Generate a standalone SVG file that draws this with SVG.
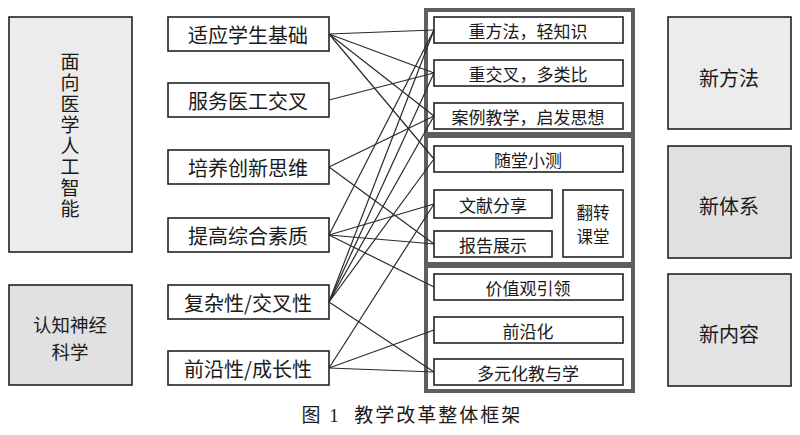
<svg xmlns="http://www.w3.org/2000/svg" width="800" height="435" viewBox="0 0 800 435">
<style>
text{font-family:"Noto Sans CJK SC","Liberation Sans",sans-serif;fill:#1a1a1a;text-anchor:middle;dominant-baseline:central}
.big{stroke:#222;stroke-width:1.6}
.box{fill:#fff;stroke:#222;stroke-width:1.6}
.frame{fill:#fff;stroke:#5e5e5e;stroke-width:4}
.t20{font-size:20px}
.t17{font-size:17px}
.vert{writing-mode:vertical-rl;font-size:19px;letter-spacing:2px}
#connectors line{stroke:#2a2a2a;stroke-width:1.2}
</style>
<rect width="800" height="435" fill="#fff"/>
<g id="n-ai"><rect class="big" x="9" y="17" width="123" height="235" fill="#ececec"/>
<text class="vert" x="70" y="136">面向医学人工智能</text></g>
<g id="n-cog"><rect class="big" x="9" y="285" width="123" height="100" fill="#e1e1e1"/>
<text style="font-size:18.5px"><tspan x="70" y="324">认知神经</tspan><tspan x="70" y="351">科学</tspan></text></g>
<g id="n-l1"><rect class="box" x="168" y="17" width="161" height="34"/><text class="t20" x="248" y="34">适应学生基础</text></g>
<g id="n-l2"><rect class="box" x="168" y="83" width="161" height="34"/><text class="t20" x="248" y="100">服务医工交叉</text></g>
<g id="n-l3"><rect class="box" x="168" y="150" width="161" height="34"/><text class="t20" x="248" y="167">培养创新思维</text></g>
<g id="n-l4"><rect class="box" x="168" y="218" width="161" height="34"/><text class="t20" x="248" y="235">提高综合素质</text></g>
<g id="n-l5"><rect class="box" x="168" y="285" width="161" height="34"/><text class="t20" x="248" y="302">复杂性/交叉性</text></g>
<g id="n-l6"><rect class="box" x="168" y="351" width="161" height="34"/><text class="t20" x="248" y="368">前沿性/成长性</text></g>
<g id="frames">
<rect class="frame" x="426" y="10" width="207" height="124"/>
<rect class="frame" x="426" y="136" width="207" height="128"/>
<rect class="frame" x="426" y="266" width="207" height="125"/>
</g>
<g id="connectors">
<line x1="329" y1="34" x2="434" y2="30"/>
<line x1="329" y1="34" x2="434" y2="73"/>
<line x1="329" y1="34" x2="434" y2="116"/>
<line x1="329" y1="34" x2="434" y2="159"/>
<line x1="329" y1="100" x2="434" y2="73"/>
<line x1="329" y1="167" x2="434" y2="116"/>
<line x1="329" y1="167" x2="434" y2="244"/>
<line x1="329" y1="235" x2="434" y2="30"/>
<line x1="329" y1="235" x2="434" y2="204"/>
<line x1="329" y1="235" x2="434" y2="244"/>
<line x1="329" y1="235" x2="434" y2="287"/>
<line x1="329" y1="302" x2="434" y2="30"/>
<line x1="329" y1="302" x2="434" y2="73"/>
<line x1="329" y1="302" x2="434" y2="116"/>
<line x1="329" y1="302" x2="434" y2="159"/>
<line x1="329" y1="302" x2="434" y2="372"/>
<line x1="329" y1="368" x2="434" y2="204"/>
<line x1="329" y1="368" x2="434" y2="330"/>
<line x1="329" y1="368" x2="434" y2="372"/>
</g>
<g id="n-m1"><rect class="box" x="434" y="17" width="189" height="26"/><text class="t17" x="528" y="30">重方法，轻知识</text></g>
<g id="n-m2"><rect class="box" x="434" y="60" width="189" height="26"/><text class="t17" x="528" y="73">重交叉，多类比</text></g>
<g id="n-m3"><rect class="box" x="434" y="103" width="189" height="26"/><text class="t17" x="528" y="116">案例教学，启发思想</text></g>
<g id="n-m4"><rect class="box" x="434" y="146" width="189" height="26"/><text class="t17" x="528" y="159">随堂小测</text></g>
<g id="n-m5"><rect class="box" x="434" y="190" width="118" height="28"/><text class="t17" x="493" y="204">文献分享</text></g>
<g id="n-m6"><rect class="box" x="434" y="231" width="118" height="26"/><text class="t17" x="493" y="244">报告展示</text></g>
<g id="n-m7"><rect class="box" x="563" y="190" width="60" height="67"/><text style="font-size:16.5px"><tspan x="593" y="212">翻转</tspan><tspan x="593" y="236">课堂</tspan></text></g>
<g id="n-m8"><rect class="box" x="434" y="274" width="189" height="26"/><text class="t17" x="528" y="287">价值观引领</text></g>
<g id="n-m9"><rect class="box" x="434" y="317" width="189" height="26"/><text class="t17" x="528" y="330">前沿化</text></g>
<g id="n-m10"><rect class="box" x="434" y="359" width="189" height="26"/><text class="t17" x="528" y="372">多元化教与学</text></g>
<g id="n-r1"><rect class="big" x="668" y="17" width="123" height="112" fill="#ececec"/><text class="t20" x="729" y="77">新方法</text></g>
<g id="n-r2"><rect class="big" x="668" y="146" width="123" height="112" fill="#e0e0e0"/><text class="t20" x="729" y="205">新体系</text></g>
<g id="n-r3"><rect class="big" x="668" y="274" width="123" height="112" fill="#e3e3e3"/><text class="t20" x="729" y="333">新内容</text></g>
<text id="caption" x="412" y="415" xml:space="preserve" style="font-size:19px;letter-spacing:2px;font-family:'Liberation Serif','Noto Sans CJK SC',serif">图 1  教学改革整体框架</text>
</svg>
